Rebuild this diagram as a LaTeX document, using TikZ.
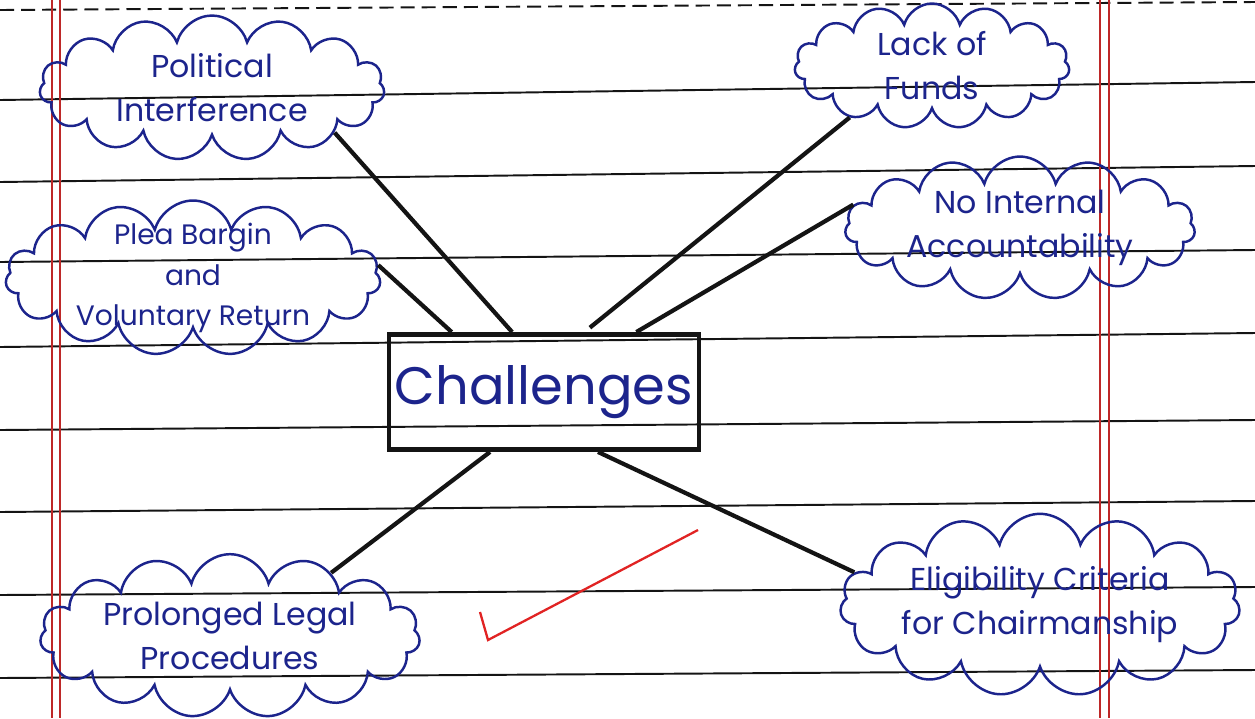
\documentclass[tikz,border=0pt]{standalone}
\usepackage{fontspec}
\setmainfont{Poppins}
\usetikzlibrary{shapes.symbols}
\definecolor{ink}{RGB}{28,36,140}
\definecolor{rule}{RGB}{20,20,20}
\definecolor{margin}{RGB}{190,40,40}
\definecolor{tick}{RGB}{225,35,35}

\begin{document}
\begin{tikzpicture}[x=0.02cm, y=-0.02cm]
    \tikzset{%
      puff/.style={cloud, draw=ink, line width=1.4pt, cloud puffs=15,
        aspect=2.4, inner sep=-14pt, text=ink, align=center,
        font=\fontsize{18}{25}\selectfont},
      hub/.style={draw=rule, line width=2.8pt, minimum width=6.1cm,
        minimum height=2.3cm, text=ink, font=\fontsize{30}{34}\selectfont},
      link/.style={rule, line width=2.4pt},
      ruled/.style={rule, line width=1.1pt},
    }
    \path[fill=white] (0,0) rectangle (1255,718);
    \useasboundingbox (0,0) rectangle (1255,718);
    % notebook page
    \draw [ruled, dashed, dash pattern=on 8pt off 4pt] (0,10) -- (1255,2);
    \foreach \l/\r in {100/82, 182/166, 262/250, 347/333, 430/420,
                       512/501, 595/587, 678/670}
      \draw [ruled] (0,\l) -- (1255,\r);
    \foreach \x in {52,60,1100,1109}
      \draw [margin, line width=0.9pt] (\x,0) -- (\x,718);

    % the ideas
    \node[hub] (chal) at (544,392) {Challenges};
    \node[puff, minimum width=6.9cm, minimum height=2.9cm] (pol) at (212,88)
      {Political\\Interference};
    \node[puff, minimum width=5.5cm, minimum height=2.5cm] (lack) at (932,66)
      {Lack of\\Funds};
    \node[puff, minimum width=7cm, minimum height=2.7cm] (noint) at (1020,228)
      {No Internal\\Accountability};
    \node[puff, minimum width=7.5cm, minimum height=3.1cm,
      font=\fontsize{16}{23}\selectfont] (plea) at (193,278)
      {Plea Bargin\\and\\Voluntary Return};
    \node[puff, minimum width=7.6cm, minimum height=2.95cm] (prol) at (230,636)
      {Prolonged Legal\\Procedures};
    \node[puff, minimum width=8cm, minimum height=2.8cm] (elig) at (1040,605)
      {Eligibility Criteria\\for Chairmanship};

    \draw [link] (pol.-20) -- (chal.118);
    \draw [link] (plea.4) -- (chal.147);
    \draw [link, shorten >=4pt] (lack.212) -- (chal.56);
    \draw [link] (noint.172) -- (chal.33);
    \draw [link] (chal.228) -- (prol.32);
    \draw [link] (chal.312) -- (elig.170);

    % teacher's tick
    \draw [tick, line width=1.3pt] (480,612) -- (488,640) -- (698,530);
\end{tikzpicture}
\end{document}
